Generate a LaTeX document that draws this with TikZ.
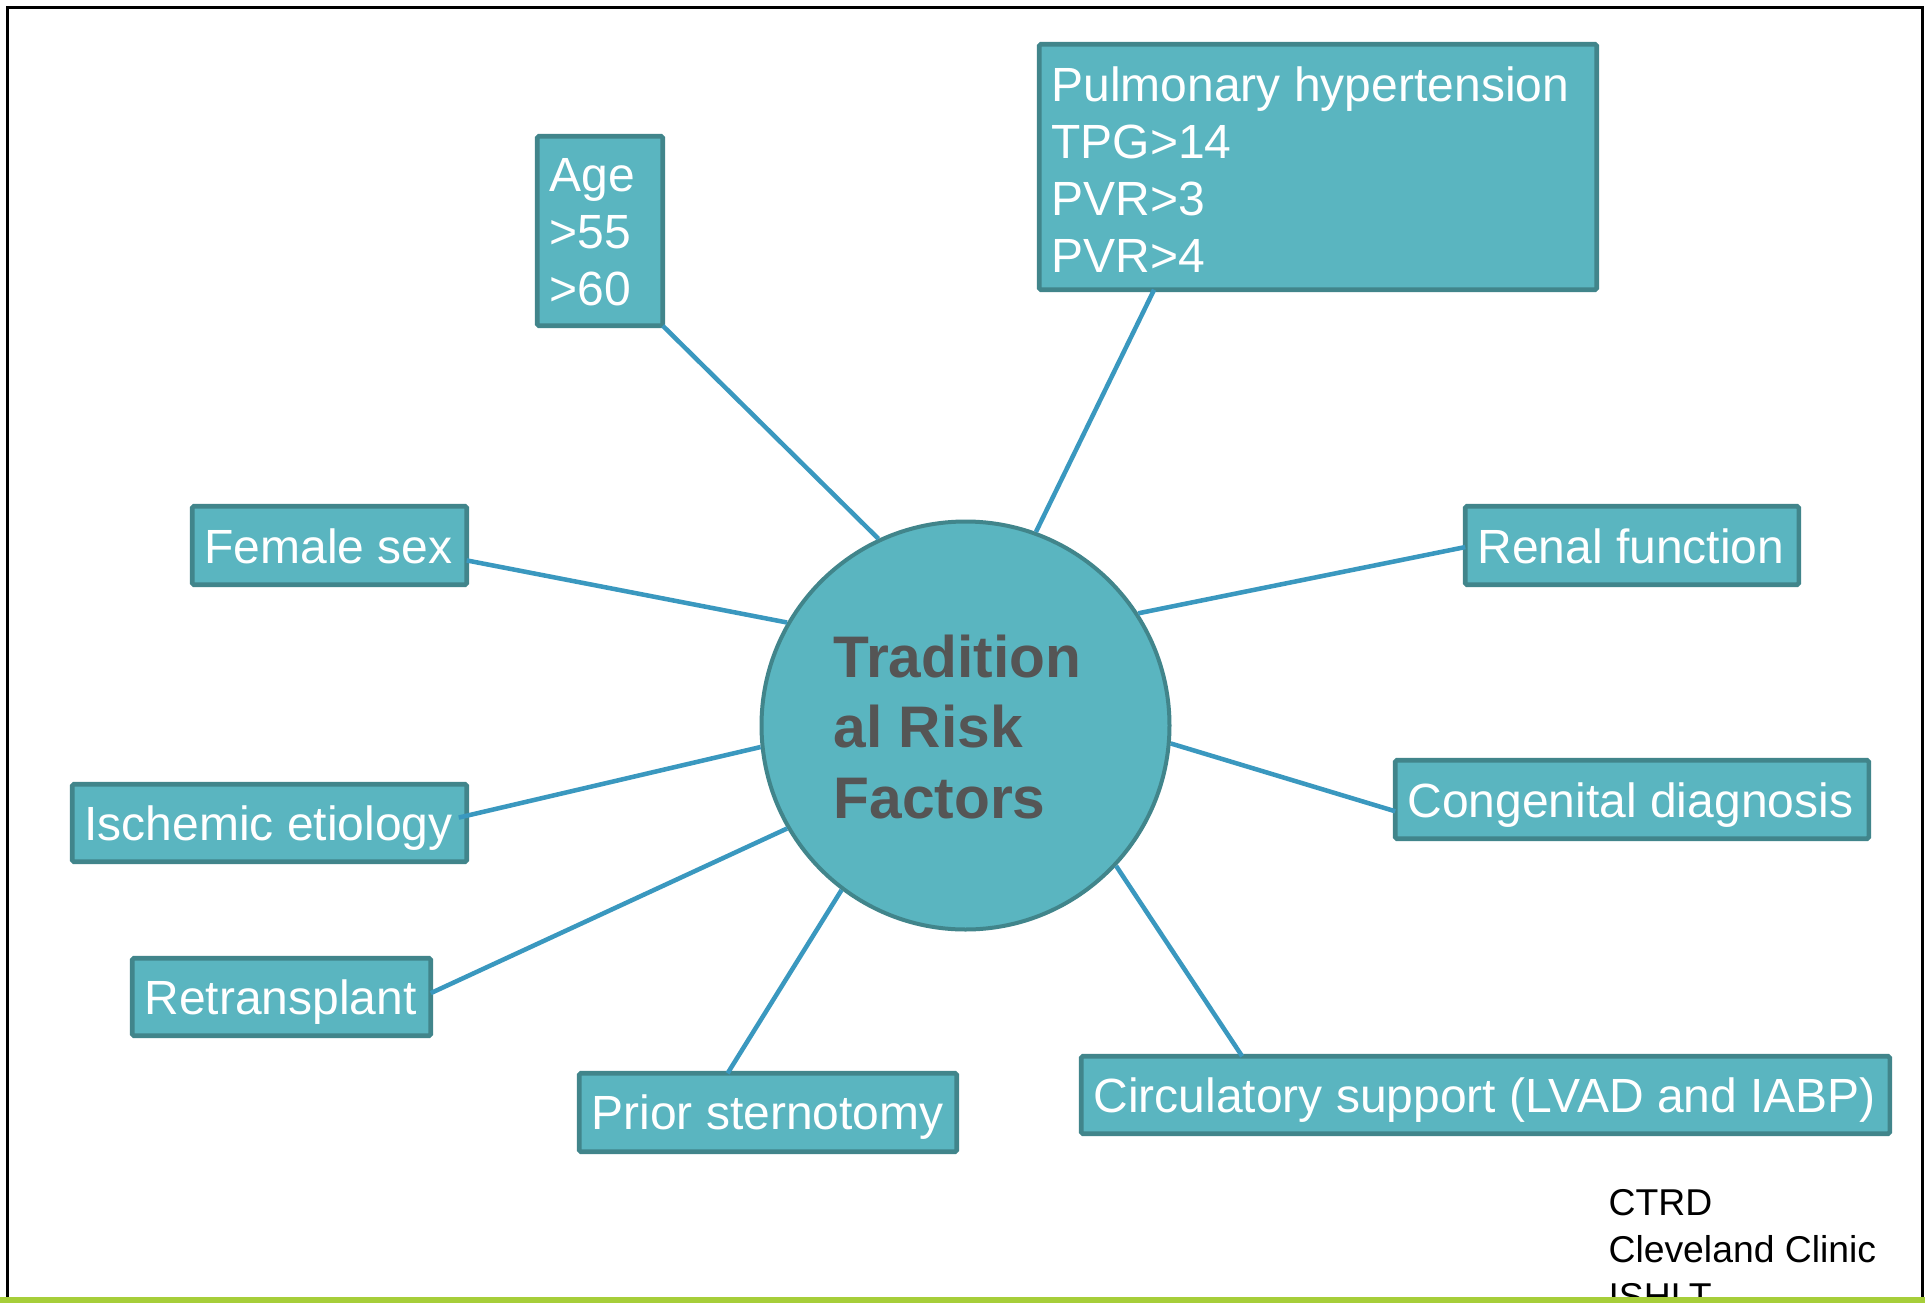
\documentclass[tikz,border=0pt]{standalone}
\usepackage{fontspec}
\setmainfont{Liberation Sans}
\usetikzlibrary{calc}
\definecolor{boxfill}{HTML}{5AB5C0}
\definecolor{boxline}{HTML}{41858B}
\definecolor{connclr}{HTML}{3A98BF}
\definecolor{ctext}{HTML}{555555}
\definecolor{greenbar}{HTML}{A6CE39}
\newcommand{\riskbox}[5]{%
  \node[riskrect, minimum width={(#4-#2-4.5)*0.375pt}, minimum height={(#5-#3-4.5)*0.375pt}] (#1) at ({(#2+#4)/2},{(#3+#5)/2}) {};}
\begin{document}
\begin{tikzpicture}[x=0.375pt,y=-0.375pt,
  riskrect/.style={draw=boxline, fill=boxfill, line width=1.7pt, rectangle, inner sep=0pt, outer sep=0pt, rounded corners=0.6pt},
  boxtext/.style={text=white, font=\fontsize{18pt}{21.4pt}\selectfont, inner sep=0pt, align=left},
  connline/.style={draw=connclr, line width=1.7pt},
  hubtext/.style={text=ctext, font=\bfseries\fontsize{22pt}{26.5pt}\selectfont, inner sep=0pt, align=left},
  srctext/.style={text=black, font=\fontsize{14pt}{17.6pt}\selectfont, inner sep=0pt, align=left}]
\useasboundingbox (0,0) rectangle (1925,1303);
\fill[white] (0,0) rectangle (1925,1303);
\draw[line width=1.125pt] (7.5,7.5) rectangle (1922.5,1320);

% hub
\node[circle, draw=boxline, fill=boxfill, line width=1.5pt, minimum size={408*0.375pt}, inner sep=0pt] (c) at (965.5,725.5) {};
\node[hubtext, anchor=north west] (ct) at (833,634) {Tradition\\al Risk\\Factors};

% boxes
\riskbox{age}{535}{134}{665}{328}
\node[boxtext, anchor=north west] (aget) at ($(age.north west)+(11.75,21.75)$) {Age\\>55\\>60};
\riskbox{pulm}{1037}{42}{1599}{292}
\node[boxtext, anchor=north west] (pulmt) at ($(pulm.north west)+(11.75,21.75)$) {Pulmonary hypertension\\TPG>14\\PVR>3\\PVR>4};
\riskbox{fem}{190}{504}{469}{587}
\node[boxtext, anchor=base west] (femt) at ($(fem.north west)+(11.75,56.75)$) {Female sex};
\riskbox{ren}{1463}{504}{1801}{587}
\node[boxtext, anchor=base west] (rent) at ($(ren.north west)+(11.75,56.75)$) {Renal function};
\riskbox{isc}{70}{782}{469}{864}
\node[boxtext, anchor=base west] (isct) at ($(isc.north west)+(11.75,55.75)$) {Ischemic etiology};
\riskbox{con}{1393}{758}{1871}{841}
\node[boxtext, anchor=base west] (cont) at ($(con.north west)+(11.75,56.75)$) {Congenital diagnosis};
\riskbox{ret}{130}{956}{433}{1038}
\node[boxtext, anchor=base west] (rett) at ($(ret.north west)+(11.75,55.75)$) {Retransplant};
\riskbox{pri}{577}{1071}{959}{1154}
\node[boxtext, anchor=base west] (prit) at ($(pri.north west)+(11.75,55.75)$) {Prior sternotomy};
\riskbox{cir}{1079}{1054}{1892}{1136}
\node[boxtext, anchor=base west] (cirt) at ($(cir.north west)+(11.75,55.75)$) {Circulatory support (LVAD and IABP)};

% connectors
\draw[connline] (age.south east) -- (c.115.4);
\draw[connline] ($(pulm.south west)!0.206!(pulm.south east)$) -- (c.70.7);
\draw[connline] ($(fem.north east)!0.69!(fem.south east)$) -- (c.150.1);
\draw[connline] ($(ren.north west)!0.52!(ren.south west)$) -- (c.33.6);
\draw[connline] ($(isc.north east)!0.43!(isc.south east)+(-8,0)$) -- (c.186.9);
\draw[connline] ($(con.north west)!0.65!(con.south west)$) -- (c.-5.2);
\draw[connline] ($(ret.north east)!0.45!(ret.south east)$) -- (c.210.3);
\draw[connline] ($(pri.north west)!0.393!(pri.north east)$) -- (c.233.8);
\draw[connline] ($(cir.north west)!0.199!(cir.north east)$) -- (c.317.4);

% source note
\node[srctext, anchor=north west] (src) at (1608,1189) {CTRD\\Cleveland Clinic\\ISHLT};
\fill[greenbar] (0,1297) rectangle (1925,1303);
\end{tikzpicture}
\end{document}
